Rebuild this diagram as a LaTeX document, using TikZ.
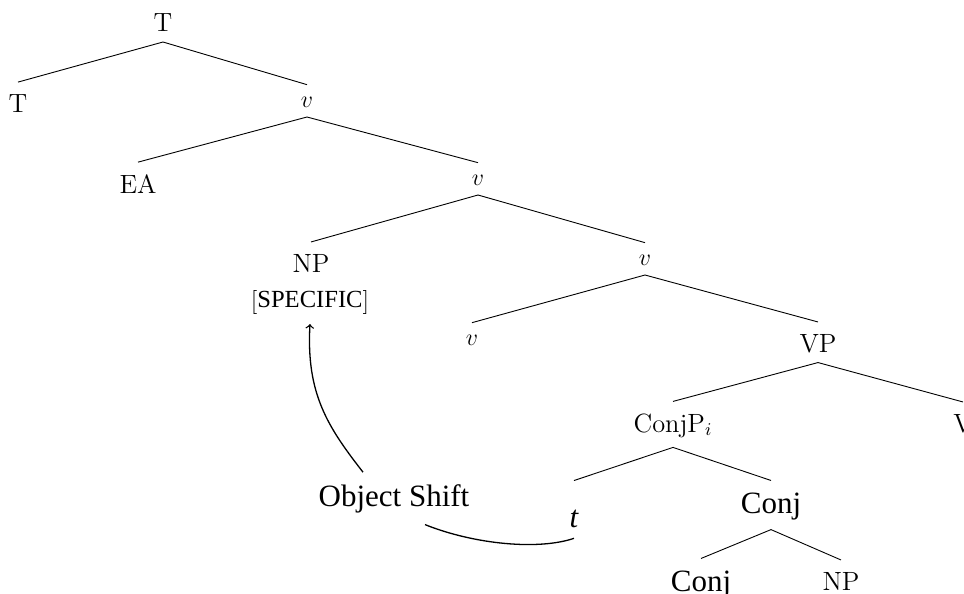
\documentclass[tikz,border=0pt]{standalone}
\usepackage{fontspec}
\newfontfamily\altserif{Liberation Serif}
\tikzset{
  lab/.style={anchor=base, inner xsep=0pt, inner ysep=6pt, outer sep=0pt, font=\fontsize{13.2}{16}\selectfont},
  alt/.style={lab, font=\fontsize{15.5}{18}\altserif},
  edge/.style={line width=0.45pt},
  mv/.style={line width=0.65pt}
}
\begin{document}
\begin{tikzpicture}[x=0.5pt,y=-0.5pt]
\useasboundingbox (0,0) rectangle (964,594);
\node[lab] (T0) at (163,32) {T};
\node[lab] (T1) at (18,112) {T};
\node[lab] (v1) at (307,107) {$v$};
\node[lab] (EA) at (138,193) {EA};
\node[lab] (v2) at (478,185) {$v$};
\node[lab] (NP) at (311,272) {NP};
\node[lab] (SP) at (310,308) {$\big[$\raisebox{0.3pt}{\fontsize{12.3}{14}\altserif SPECIFIC}$\big]$};
\node[lab] (v3) at (645,265) {$v$};
\node[lab] (v4) at (472,345) {$v$};
\node[lab] (VP) at (818,352) {VP};
\node[lab] (CP) at (673,432) {ConjP$_i$};
\node[lab] (V) at (963,432) {V};
\node[alt] (t) at (574,527) {\itshape t};
\node[alt] (C1) at (771,513) {Conj};
\node[alt] (C2) at (701,591) {Conj};
\node[lab] (NP2) at (841,590) {NP};
\node[alt] (OS) at (394,506) {Object Shift};
\foreach \p/\c in {T0/T1,T0/v1,v1/EA,v1/v2,v2/NP,v2/v3,v3/v4,v3/VP,VP/CP,VP/V,CP/C1,C1/C2,C1/NP2}
  \draw[edge] ([yshift=1pt]\p.south) -- (\c.north);
\draw[edge] ([yshift=1pt]CP.south) -- ([yshift=8.5pt]t.north);
\draw[mv,->] ([xshift=-15.5pt]OS.north) .. controls +(-35,-45) and +(-4,70) .. ([yshift=1pt]SP.south);
\draw[mv] ([yshift=0.5pt]t.south) .. controls +(-35,12) and +(50,20) .. ([xshift=15.5pt]OS.south);
\end{tikzpicture}
\end{document}
